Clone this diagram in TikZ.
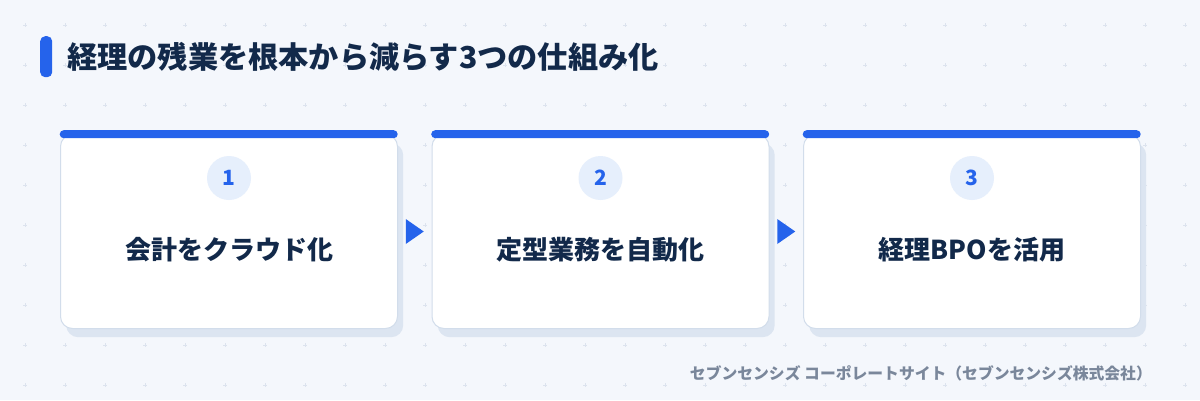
\documentclass[tikz,border=0pt]{standalone}
\usepackage{fontspec}
\setmainfont{Noto Sans CJK JP}
\usetikzlibrary{calc}
\definecolor{bgc}{HTML}{F4F7FC}
\definecolor{gridc}{HTML}{DCE3EE}
\definecolor{bluec}{HTML}{2563EB}
\definecolor{navyc}{HTML}{12294A}
\definecolor{grayc}{HTML}{7A879B}
\definecolor{shadowc}{HTML}{DCE5F1}
\definecolor{borderc}{HTML}{D2DDEB}
\definecolor{circc}{HTML}{E6EFFC}
\tikzset{
  card/.style={draw=borderc, line width=1pt, fill=white, rounded corners=12pt,
    minimum width=337pt, minimum height=194pt, inner sep=0pt, anchor=north west},
  cardshadow/.style={fill=shadowc, rounded corners=12pt, draw=none,
    minimum width=337pt, minimum height=194pt, inner sep=0pt, anchor=north west},
  topbar/.style={fill=bluec, rounded corners=4pt, draw=none,
    minimum width=338pt, minimum height=8pt, inner sep=0pt, anchor=north west},
  numcirc/.style={circle, fill=circc, minimum size=44pt, inner sep=0pt,
    text=bluec, font=\fontsize{21pt}{21pt}\selectfont\bfseries},
  cardtext/.style={text=navyc, font=\fontsize{26pt}{26pt}\selectfont\bfseries, inner sep=0pt},
  arrowtri/.style={fill=bluec, draw=none},
}
\begin{document}
\begin{tikzpicture}[x=1pt, y=-1pt]
\useasboundingbox (0,0) rectangle (1200,400);
\fill[bgc] (0,0) rectangle (1200,400);
\foreach \i in {0,...,29}{
  \foreach \j in {0,...,9}{
    \draw[gridc, line width=0.7pt] ({25+40*\i-1.8},{25+40*\j}) -- ({25+40*\i+1.8},{25+40*\j})
      ({25+40*\i},{25+40*\j-1.8}) -- ({25+40*\i},{25+40*\j+1.8});
  }
}
% title
\node[fill=bluec, rounded corners=5pt, minimum width=12pt, minimum height=41pt, inner sep=0pt, anchor=north west] (tbar) at (40,36) {};
\node[anchor=west, inner sep=0pt, text=navyc, font=\fontsize{30.2pt}{30pt}\selectfont\bfseries] (title) at (67,57) {経理の残業を根本から減らす3つの仕組み化};
% cards
\foreach \k/\x/\num/\txt in {1/60/1/会計をクラウド化, 2/431.5/2/定型業務を自動化, 3/803/3/経理BPOを活用}{
  \node[cardshadow] (s\k) at (\x+6,143) {};
  \node[card] (c\k) at (\x,134) {};
  \node[topbar] (b\k) at (\x-0.5,130) {};
  \node[numcirc] (n\k) at ($(c\k.north)+(0,44)$) {\num};
  \node[cardtext] (t\k) at ($(c\k.north)+(0,116)$) {\txt};
}
% arrows
\fill[arrowtri] ($(c1.east)!0.5!(c2.west)$) ++(-9,-12.5) -- ++(0,25) -- ++(18,-12.5) -- cycle;
\fill[arrowtri] ($(c2.east)!0.5!(c3.west)$) ++(-9,-12.5) -- ++(0,25) -- ++(18,-12.5) -- cycle;
% footer
\node[anchor=east, inner sep=0pt, text=grayc, font=\fontsize{15.8pt}{15.8pt}\selectfont\bfseries] (foot) at (1152,373) {セブンセンシズ コーポレートサイト（セブンセンシズ株式会社）};
\end{tikzpicture}
\end{document}
